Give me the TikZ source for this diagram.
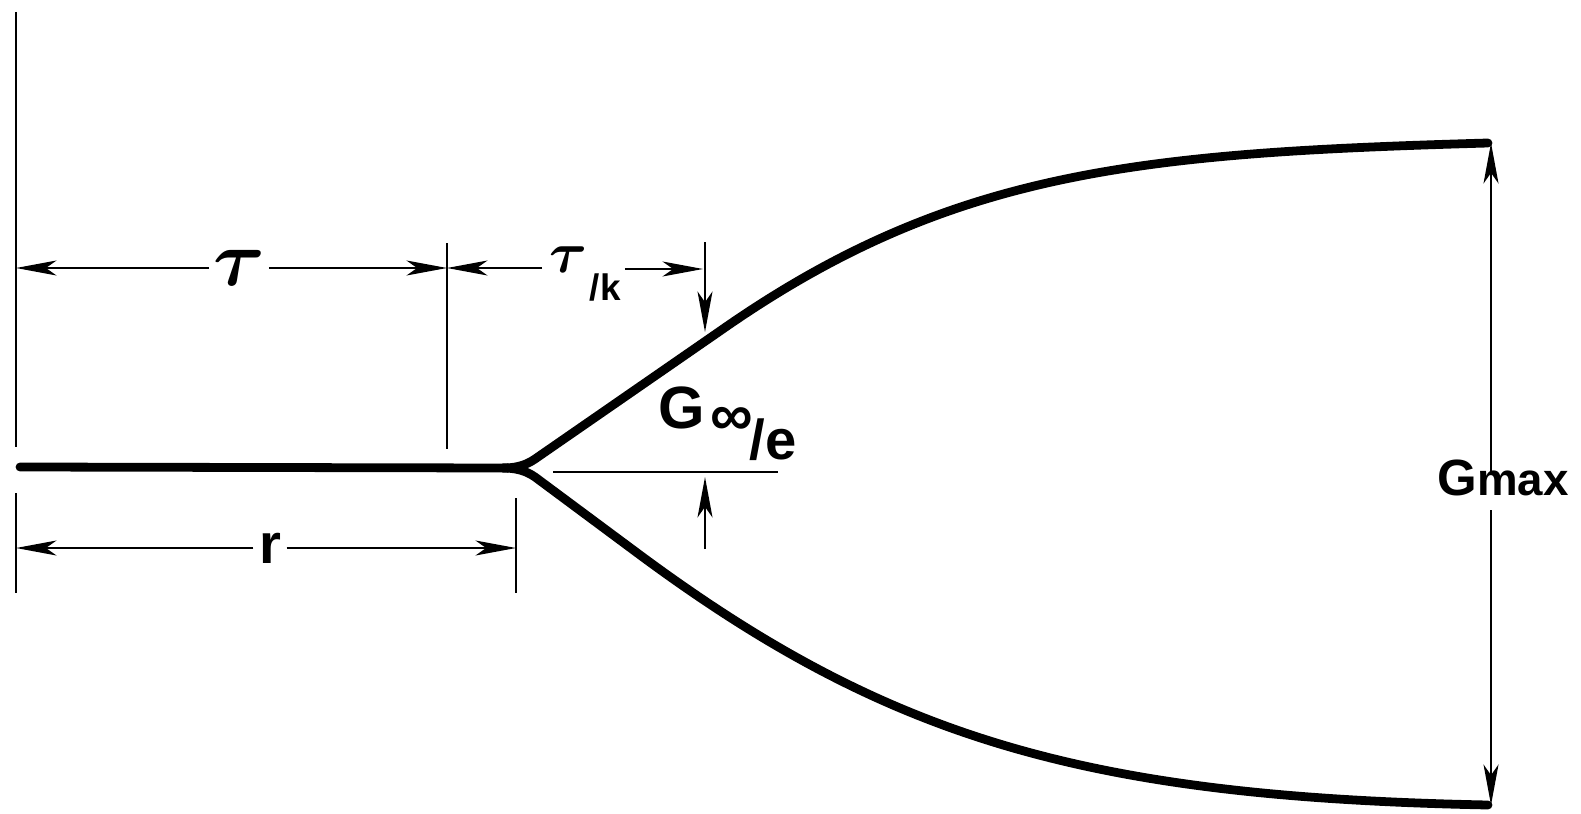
\documentclass[tikz,border=0pt]{standalone}
\usepackage{fontspec}
\setmainfont{Liberation Sans}
\usepackage{bm}
\usepackage{graphicx}
\usetikzlibrary{arrows.meta, positioning, calc}

\newcommand{\tauglyph}[1]{\scalebox{#1}{$\bm{\tau}$}}

\tikzset{
  profile/.style={line width=5pt, line cap=round, line join=round},
  dim/.style={line width=1.6pt},
  dimarrow/.style={dim, -{Stealth[length=23pt, width=8.5pt, inset=6pt]}},
  lbl/.style={inner sep=0pt},
}

\begin{document}
\begin{tikzpicture}[x=0.02cm, y=-0.02cm]
    \useasboundingbox (0,0) rectangle (1581,814);

    % dicke Kontur
    \draw[profile] (20,467) -- (508,468);
    \draw[profile] (503,468) .. controls (514,468) and (525,466) .. (535,459)
        -- (720,331) .. controls (950,170) and (1138,153) .. (1488,143);
    \draw[profile] (503,468) .. controls (514,468) and (525,470) .. (535,477)
        -- (640,555) .. controls (890,740) and (1088,797) .. (1488,805);

    % Hilfslinien
    \draw[dim] (16,12) -- (16,447);
    \draw[dim] (16,493) -- (16,593);
    \draw[dim] (447,243) -- (447,449);
    \draw[dim] (516,498) -- (516,593);
    \draw[dim] (553,472) -- (778,472);

    % Bemassungspunkte
    \coordinate (tauA) at (16,268);
    \coordinate (tauB) at (447,268);
    \coordinate (tkB) at (703,269);
    \coordinate (rA) at (16,548);
    \coordinate (rB) at (516,548);
    \coordinate (hitU) at (705,332);
    \coordinate (hitUtail) at (705,242);
    \coordinate (hitL) at (705,477);
    \coordinate (hitLtail) at (705,549);
    \coordinate (gtop) at (1491,143);
    \coordinate (gbot) at (1491,805);
    \coordinate (gA) at (1491,475);
    \coordinate (gB) at (1491,510);

    % Beschriftungen
    \node[lbl, inner xsep=2pt] (tau) at (239,268) {\tauglyph{4.5}};
    \node[lbl, anchor=base west, inner xsep=4pt] (tk) at (542,272) {\tauglyph{3.3}};
    \node[lbl, anchor=base west, font=\bfseries\fontsize{21}{21}\selectfont, yshift=-16pt, xshift=-3pt] (tkk) at (tk.base east) {/k};
    \node[lbl, inner xsep=3pt, font=\bfseries\fontsize{32}{32}\selectfont] (r) at (270,548) {r};
    \node[lbl, anchor=base west, font=\bfseries\fontsize{34}{34}\selectfont] (ginf) at (658,428) {G\hspace{3pt}\raisebox{-4pt}{∞}};
    \node[lbl, anchor=base west, font=\bfseries\fontsize{32}{32}\selectfont, yshift=-18pt, xshift=-2pt] (ge) at (ginf.base east) {/e};
    \node[lbl, anchor=base west, font=\bfseries\fontsize{29}{29}\selectfont] (gmax) at (1437,495) {G{\fontsize{26}{26}\selectfont max}};

    % Pfeile
    \draw[dimarrow] (tau) -- (tauA);
    \draw[dimarrow] (tau) -- (tauB);
    \draw[dimarrow] (tk.west |- tauB) -- (tauB);
    \draw[dimarrow] ($(tkk.east |- tkB)+(4,0)$) -- (tkB);
    \draw[dimarrow] (r) -- (rA);
    \draw[dimarrow] (r) -- (rB);
    \draw[dimarrow] (hitUtail) -- (hitU);
    \draw[dimarrow] (hitLtail) -- (hitL);
    \draw[dimarrow] (gA) -- (gtop);
    \draw[dimarrow] (gB) -- (gbot);
\end{tikzpicture}
\end{document}
